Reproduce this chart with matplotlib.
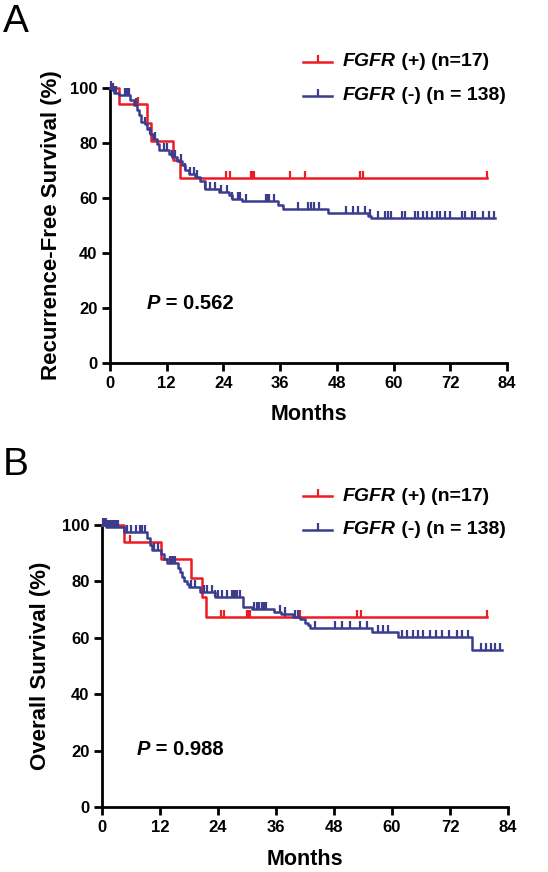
import numpy as np
import matplotlib.pyplot as plt
from matplotlib.path import Path
from matplotlib.lines import Line2D

plt.rcParams['font.family'] = ['Liberation Sans', 'DejaVu Sans']

RED = '#ec1c24'
BLUE = '#3b3c8e'

# ---- panel A : recurrence-free survival ----
a_pos_t = [0, 1.8, 7.9, 8.7, 13.3, 14.9]
a_pos_s = [100, 94.1, 87.4, 80.6, 73.9, 67.1]
a_pos_c = [5.9, 24.6, 25.3, 29.8, 30.1, 30.4, 38.1, 41.3, 52.8, 53.5, 79.7]
a_pos_end = 79.7

a_neg_t = [0, 0.4, 0.9, 1.8, 4.3, 5.0, 5.7, 6.2, 6.6, 7.3, 7.8, 8.5, 9.2, 9.9, 10.3,
           12.4, 13.1, 14.2, 15.2, 15.8, 16.7, 17.9, 19.1, 20.1, 23.0, 25.2, 25.9,
           28.0, 35.5, 36.5, 46.1, 54.6, 55.3]
a_neg_s = [100, 99.2, 98.2, 97.3, 95.5, 93.7, 91.9, 90.1, 87.6, 87.0, 85.2, 83.4, 81.6,
           79.8, 77.3, 76.1, 74.9, 73.3, 71.9, 70.1, 68.9, 67.6, 66.1, 63.4, 62.2, 61.0,
           59.8, 58.8, 57.3, 56.0, 54.7, 53.6, 52.6]
a_neg_c = [0.2, 0.5, 0.7, 1.0, 1.3, 3.2, 3.6, 4.0, 5.6, 7.4, 8.5, 9.6, 11.4, 12.1, 13.1,
           13.8, 15.0, 15.9, 17.0, 17.7, 18.4, 20.1, 21.2, 22.3, 23.4, 24.8, 25.9, 27.0,
           27.6, 28.7, 33.0, 33.3, 33.6, 34.6, 39.7, 41.8, 42.5, 43.2, 44.3, 50.0, 51.4,
           52.5, 53.9, 55.1, 56.7, 58.1, 58.8, 59.5, 61.7, 62.4, 64.5, 65.2, 66.3, 67.0,
           68.1, 69.1, 69.8, 70.9, 71.9, 74.4, 75.1, 76.6, 77.3, 79.0, 80.1, 81.2]
a_neg_end = 81.5

# ---- panel B : overall survival ----
b_pos_t = [0, 4.6, 12.3, 18.4, 20.7, 21.5]
b_pos_s = [100, 94.1, 87.9, 81.1, 74.4, 67.5]
b_pos_c = [0.8, 5.8, 24.6, 25.3, 30.0, 30.4, 30.7, 37.9, 41.0, 52.7, 53.5, 79.7]
b_pos_end = 79.7

b_neg_t = [0, 0.8, 4.6, 9.3, 9.9, 10.4, 12.2, 12.8, 13.4, 15.8, 16.2, 16.6, 17.0, 17.5,
           17.9, 20.3, 23.4, 29.2, 31.0, 35.5, 37.0, 39.5, 41.0, 42.0, 42.6, 43.0, 55.8,
           61.3, 76.5]
b_neg_s = [100, 99.4, 97.6, 95.5, 93.0, 91.1, 89.6, 88.0, 86.4, 84.9, 83.3, 81.7, 80.2,
           79.0, 78.1, 76.3, 74.4, 70.8, 70.1, 69.2, 68.3, 67.5, 66.6, 65.4, 64.5, 63.4,
           62.2, 60.4, 55.7]
b_neg_c = [0.3, 0.6, 1.0, 1.4, 1.8, 2.2, 2.6, 3.0, 3.4, 5.2, 6.0, 7.0, 7.8, 8.3, 8.8,
           10.8, 11.5, 14.0, 14.4, 14.8, 15.2, 18.5, 19.3, 21.0, 21.7, 22.7, 23.4, 24.1,
           24.8, 25.8, 26.8, 27.2, 27.5, 27.9, 28.6, 31.5, 32.0, 32.5, 33.0, 33.5, 34.0,
           36.8, 37.9, 39.9, 40.6, 44.1, 48.2, 49.6, 51.3, 53.4, 54.8, 57.2, 58.2, 59.2,
           62.0, 63.0, 64.4, 65.4, 66.5, 67.9, 69.2, 70.3, 71.7, 73.4, 74.4, 75.8, 78.4,
           79.4, 80.4, 81.4, 82.4]
b_neg_end = 82.8

pos_label = ' (+) (n=17)'
neg_label = ' (-) (n = 138)'

tick = Path([(0, 0), (0, 1)], [Path.MOVETO, Path.LINETO])


def surv_at(times, surv, t):
    i = np.searchsorted(times, t, side='right') - 1
    return np.asarray(surv)[i]


def km(ax, times, surv, cens, end, color, z):
    t = list(times) + [end]
    s = list(surv) + [surv[-1]]
    ax.step(t, s, where='post', color=color, lw=1.8, clip_on=False, zorder=z)
    ax.plot(cens, surv_at(times, surv, cens), ls='none', marker=tick, ms=9.5, mew=1.6,
            color=color, clip_on=False, zorder=z)


def style(ax, ylabel, ylab_x):
    ax.set_xlim(0, 84)
    ax.set_ylim(0, 100)
    ax.set_xticks(range(0, 85, 12))
    ax.set_yticks(range(0, 101, 20))
    for s in ['top', 'right']:
        ax.spines[s].set_visible(False)
    for s in ['left', 'bottom']:
        ax.spines[s].set_linewidth(2)
    ax.tick_params(direction='out', length=6, width=2, labelsize=12, pad=3)
    for lab in ax.get_xticklabels() + ax.get_yticklabels():
        lab.set_fontweight('bold')
    ax.set_xlabel('Months', fontsize=15.5, fontweight='bold')
    ax.set_ylabel(ylabel, fontsize=16, fontweight='bold')
    ax.xaxis.set_label_coords(0.5, -0.15)
    ax.yaxis.set_label_coords(ylab_x, 0.5)


def ptext(ax, x, y, val):
    t = ax.text(x, y, 'P', fontsize=14.5, fontweight='bold', style='italic')
    ax.annotate(' = ' + val, xy=(1, 0), xycoords=t, va='bottom', ha='left',
                fontsize=14.5, fontweight='bold')


def legend(fig, ypx, x0px=303, x1px=332, txpx=343):
    W, H = 548.0, 872.0
    for k, (col, lab) in enumerate([(RED, pos_label), (BLUE, neg_label)]):
        y = 1 - (ypx + k * 34) / H
        fig.add_artist(Line2D([x0px / W, x1px / W], [y, y], color=col, lw=1.8,
                              transform=fig.transFigure))
        fig.add_artist(Line2D([(x0px + x1px) / 2 / W], [y], color=col, ls='none',
                              marker=tick, ms=9.5, mew=1.6, transform=fig.transFigure))
        t = fig.text(txpx / W, y, 'FGFR', fontsize=14, fontweight='bold',
                     style='italic', va='center')
        plt.annotate(lab, xy=(1, 0), xycoords=t, va='bottom', ha='left',
                     fontsize=14, fontweight='bold', annotation_clip=False)


fig = plt.figure(figsize=(5.48, 8.72), dpi=100)

axA = fig.add_axes([110 / 548, 1 - 363 / 872, 397 / 548, 275 / 872])
km(axA, a_pos_t, a_pos_s, a_pos_c, a_pos_end, RED, 3)
km(axA, a_neg_t, a_neg_s, a_neg_c, a_neg_end, BLUE, 4)
style(axA, 'Recurrence-Free Survival (%)', -0.121)
ptext(axA, 7.8, 19.5, '0.562')

axB = fig.add_axes([102 / 548, 1 - 807 / 872, 406 / 548, 282 / 872])
km(axB, b_pos_t, b_pos_s, b_pos_c, b_pos_end, RED, 3)
km(axB, b_neg_t, b_neg_s, b_neg_c, b_neg_end, BLUE, 4)
style(axB, 'Overall Survival (%)', -0.125)
ptext(axB, 7.2, 18.5, '0.988')

legend(fig, 62)
legend(fig, 496)

fig.text(3 / 548, 1 - 4 / 872, 'A', fontsize=28, va='top', ha='left')
fig.text(3 / 548, 1 - 447 / 872, 'B', fontsize=28, va='top', ha='left')

fig.savefig('out.png', dpi=100)
